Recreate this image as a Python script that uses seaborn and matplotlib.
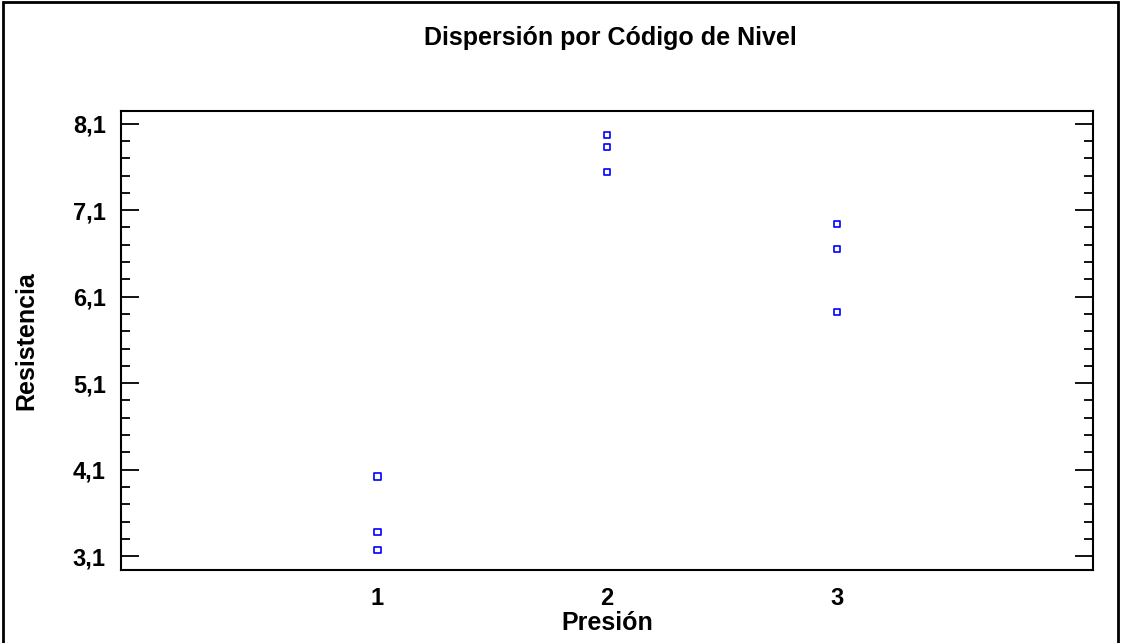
import matplotlib
matplotlib.use('Agg')
import matplotlib.pyplot as plt
import seaborn as sns
import pandas as pd
from matplotlib.ticker import FixedLocator, FuncFormatter
from matplotlib.patches import Rectangle

# datos
presion = [1, 1, 1, 2, 2, 2, 3, 3, 3]
resistencia = [4.02, 3.38, 3.17, 7.97, 7.83, 7.54, 6.94, 6.65, 5.92]
x_ticks = [1, 2, 3]
y_ticks = [3.1, 4.1, 5.1, 6.1, 7.1, 8.1]

df = pd.DataFrame({'Presión': presion, 'Resistencia': resistencia})

sns.set_theme(style='white')
plt.rcParams['font.family'] = ['Liberation Sans', 'DejaVu Sans']
plt.rcParams['text.color'] = 'black'
plt.rcParams['axes.labelcolor'] = 'black'
plt.rcParams['xtick.color'] = 'black'
plt.rcParams['ytick.color'] = 'black'

fig = plt.figure(figsize=(11.21, 6.43), dpi=100)
ax = fig.add_axes([0.108, 0.1135, 0.867, 0.714])

sns.scatterplot(data=df, x='Presión', y='Resistencia', ax=ax,
                marker='s', s=22, facecolor='none', edgecolor='#0000ff',
                linewidth=1.2)

ax.set_xlim(-0.115, 4.115)
ax.set_ylim(2.94, 8.247)
ax.xaxis.set_major_locator(FixedLocator(x_ticks))
ax.yaxis.set_major_locator(FixedLocator(y_ticks))
ax.yaxis.set_minor_locator(FixedLocator(
    [round(3.1 + 0.2 * i, 2) for i in range(26) if i % 5 != 0]))
ax.yaxis.set_major_formatter(FuncFormatter(lambda v, p: f'{v:.1f}'.replace('.', ',')))

ax.tick_params(axis='y', which='major', direction='in', length=13, width=1.3,
               left=True, right=True, labelsize=17, pad=11)
ax.tick_params(axis='y', which='minor', direction='in', length=6.5, width=1.3,
               left=True, right=True)
ax.tick_params(axis='x', which='major', length=0, labelsize=17, pad=12)
for lab in ax.get_xticklabels() + ax.get_yticklabels():
    lab.set_fontweight('bold')

for sp in ax.spines.values():
    sp.set_color('black')
    sp.set_linewidth(1.5)

ax.set_xlabel('Presión', fontsize=18, fontweight='bold')
ax.set_ylabel('Resistencia', fontsize=18, fontweight='bold')
# posiciones de las etiquetas en coordenadas de la figura
ax.xaxis.set_label_coords(607 / 1121, 1 - 623 / 643, transform=fig.transFigure)
ax.yaxis.set_label_coords(26 / 1121, 1 - 341 / 643, transform=fig.transFigure)
ax.xaxis.label.set_va('center')
ax.yaxis.label.set_va('center')

fig.text(610 / 1121, 1 - 38 / 643, 'Dispersión por Código de Nivel', ha='center', va='center',
         fontsize=18, fontweight='bold')

fig.patches.append(Rectangle((0.003, -0.01), 0.994, 1.007, transform=fig.transFigure,
                             fill=False, edgecolor='black', linewidth=2))

fig.savefig('out.png', dpi=100)
